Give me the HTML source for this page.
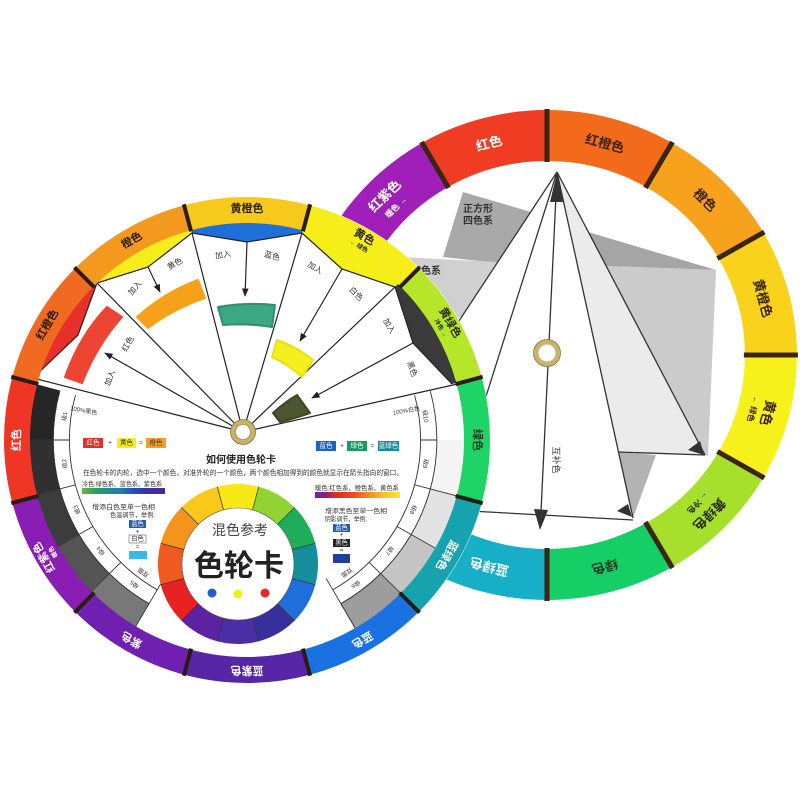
<!DOCTYPE html>
<html><head><meta charset="utf-8">
<style>
html,body{margin:0;padding:0;background:#fff;}
svg{display:block;}
text{font-family:"Liberation Sans","Noto Sans CJK SC",sans-serif;}
</style></head><body>
<svg width="800" height="800" viewBox="0 0 800 800" xmlns="http://www.w3.org/2000/svg">
<defs>
 <marker id="ah" viewBox="0 0 10 10" refX="9" refY="5" markerWidth="7" markerHeight="7" orient="auto"><path d="M0,1 L10,5 L0,9 z" fill="#222"/></marker>
 <linearGradient id="cool" x1="0" x2="1" y1="0" y2="0">
  <stop offset="0" stop-color="#6cb83a"/><stop offset="0.16" stop-color="#2aa05a"/><stop offset="0.45" stop-color="#1f80b8"/><stop offset="0.62" stop-color="#2050c0"/><stop offset="0.78" stop-color="#3a30a0"/><stop offset="1" stop-color="#4a2898"/>
 </linearGradient>
 <linearGradient id="warm" x1="0" x2="1" y1="0" y2="0">
  <stop offset="0" stop-color="#6a22a8"/><stop offset="0.14" stop-color="#8a1f80"/><stop offset="0.22" stop-color="#d92a20"/><stop offset="0.45" stop-color="#ee4a1e"/><stop offset="0.62" stop-color="#f28a22"/><stop offset="0.8" stop-color="#f8c030"/><stop offset="1" stop-color="#f8e428"/>
 </linearGradient>
</defs>
<rect width="800" height="800" fill="#fff"/>

<!-- ============ RIGHT WHEEL ============ -->
<g transform="translate(547,355) scale(1.02,1)">
 <circle r="245" fill="#fff"/>
 <g fill="none" stroke-width="51" stroke-dasharray="116 1300">
  <circle r="219.5" stroke="#f36b1a" transform="rotate(-90)"/>
  <circle r="219.5" stroke="#f7a21c" transform="rotate(-60)"/>
  <circle r="219.5" stroke="#f9d21b" transform="rotate(-30)"/>
  <circle r="219.5" stroke="#f6f11a" transform="rotate(0)"/>
  <circle r="219.5" stroke="#a6e02d" transform="rotate(30)"/>
  <circle r="219.5" stroke="#16ce66" transform="rotate(60)"/>
  <circle r="219.5" stroke="#17afc8" transform="rotate(90)"/>
  <circle r="219.5" stroke="#1a6fe0" transform="rotate(120)"/>
  <circle r="219.5" stroke="#4a2aa8" transform="rotate(150)"/>
  <circle r="219.5" stroke="#7a20b0" transform="rotate(180)"/>
  <circle r="219.5" stroke="#a01fb8" transform="rotate(210)"/>
  <circle r="219.5" stroke="#f03c22" transform="rotate(240)"/>
 </g>
 <g stroke="#3b2616" stroke-width="5">
  <line y1="-193" y2="-246" transform="rotate(0)"/>
  <line y1="-193" y2="-246" transform="rotate(30)"/>
  <line y1="-193" y2="-246" transform="rotate(60)"/>
  <line y1="-193" y2="-246" transform="rotate(90)"/>
  <line y1="-193" y2="-246" transform="rotate(120)"/>
  <line y1="-193" y2="-246" transform="rotate(150)"/>
  <line y1="-193" y2="-246" transform="rotate(180)"/>
  <line y1="-193" y2="-246" transform="rotate(210)"/>
  <line y1="-193" y2="-246" transform="rotate(240)"/>
  <line y1="-193" y2="-246" transform="rotate(270)"/>
  <line y1="-193" y2="-246" transform="rotate(300)"/>
  <line y1="-193" y2="-246" transform="rotate(330)"/>
 </g>
 <g font-size="13" font-weight="bold" text-anchor="middle" dominant-baseline="central">
  <text transform="rotate(345) translate(0,-219)" fill="#fff">红色</text>
  <text transform="rotate(15) translate(0,-219)" fill="#3a2410">红橙色</text>
  <text transform="rotate(45) translate(0,-219)" fill="#3a2410">橙色</text>
  <text transform="rotate(75) translate(0,-219)" fill="#3a2410">黄橙色</text>
  <text transform="rotate(105) translate(0,-224)" fill="#3a2410">黄色</text>
  <text transform="rotate(105) translate(0,-209)" fill="#3a2410" font-size="8">← 绿色</text>
  <text transform="rotate(135) translate(0,-225)" fill="#2a2a10">黄绿色</text>
  <text transform="rotate(135) translate(0,-209)" fill="#2a2a10" font-size="8">← 冷色</text>
  <text transform="rotate(165) translate(0,-219)" fill="#1a3a20">绿色</text>
  <text transform="rotate(195) translate(0,-219)" fill="#fff">蓝绿色</text>
  <text transform="rotate(315) translate(0,-225)" fill="#fff">红紫色</text>
  <text transform="rotate(315) translate(0,-209)" fill="#fff" font-size="8">暖色 →</text>
 </g>
</g>

<!-- right wheel interior -->
<polygon points="463,192 531,212 497,263 443,257" fill="#a9a9a9"/>
<polygon points="400,257 497,262 463,315 440,330" fill="#d0d0d0"/>
<polygon points="588,232 716,270 606,266" fill="#a5a5a5"/>
<polygon points="606,266 716,270 708,456 705,455" fill="#cbcbcb"/>
<polygon points="557,172 705,455 618,452" fill="#ebebeb"/>
<polygon points="618,452 656,455 633,518" fill="#b3b3b3"/>
<g stroke="#333" stroke-width="1.3" fill="none">
 <line x1="557" y1="172" x2="430" y2="365"/>
 <line x1="557" y1="172" x2="470" y2="447"/>
 <line x1="557" y1="172" x2="705" y2="455"/>
 <line x1="557" y1="172" x2="633" y2="518"/>
 <line x1="618" y1="452" x2="705" y2="455"/>
 <line x1="470" y1="511" x2="633" y2="520"/>
 <line x1="556" y1="195" x2="541" y2="512"/>
</g>
<polygon points="557,173 550,202 563,202" fill="#333"/>
<polygon points="540,530 534,509 548,510" fill="#333"/>
<polygon points="704,455 688,450 700,441" fill="#333"/>
<polygon points="632,517 617,511 628,504" fill="#333"/>
<circle cx="547" cy="353" r="11" fill="#fff" stroke="#c9b36d" stroke-width="5"/>
<circle cx="547" cy="353" r="13.5" fill="none" stroke="#8a7440" stroke-width="0.8"/>
<text x="478" y="212" font-size="10" font-weight="bold" fill="#333" text-anchor="middle">正方形</text>
<text x="478" y="224" font-size="10" font-weight="bold" fill="#333" text-anchor="middle">四色系</text>
<text x="411" y="274" font-size="10" font-weight="bold" fill="#333">四色系</text>
<text transform="translate(556,460) rotate(90)" font-size="9" fill="#333" text-anchor="middle" dominant-baseline="central">互补色</text>

<!-- ============ LEFT WHEEL ============ -->
<circle cx="247" cy="440" r="243.5" fill="#fff"/>

<!-- gray scale band -->
<g transform="translate(245,440) scale(1.015,1)" fill="none" stroke-width="29" stroke-dasharray="53.8 1300">
 <circle r="203" stroke="#262626" transform="rotate(180)"/>
 <circle r="203" stroke="#303030" transform="rotate(165)"/>
 <circle r="203" stroke="#3c3c3c" transform="rotate(150)"/>
 <circle r="203" stroke="#545454" transform="rotate(135)"/>
 <circle r="203" stroke="#787878" transform="rotate(120)"/>
 <circle r="203" stroke="#9d9d9d" transform="rotate(45)"/>
 <circle r="203" stroke="#c4c4c4" transform="rotate(30)"/>
 <circle r="203" stroke="#e2e2e2" transform="rotate(15)"/>
 <circle r="203" stroke="#f4f4f4" transform="rotate(0)"/>
</g>
<!-- label ring outlines -->
<g transform="translate(245,440) scale(1.015,1)" fill="none" stroke="#333" stroke-width="0.9">
 <circle r="173" stroke-dasharray="226.5 2000" transform="rotate(-15)"/>
 <circle r="173" stroke-dasharray="226.5 2000" transform="rotate(120)"/>
 <circle r="189" stroke-dasharray="247.4 2000" transform="rotate(-15)"/>
 <circle r="189" stroke-dasharray="247.4 2000" transform="rotate(120)"/>
 <g>
  <line y1="-173" y2="-189" transform="rotate(90)"/>
  <line y1="-173" y2="-217" transform="rotate(105)"/>
  <line y1="-173" y2="-217" transform="rotate(120)"/>
  <line y1="-173" y2="-217" transform="rotate(135)"/>
  <line y1="-160" y2="-217" transform="rotate(150)"/>
  <line y1="-160" y2="-217" transform="rotate(210)"/>
  <line y1="-173" y2="-217" transform="rotate(225)"/>
  <line y1="-173" y2="-217" transform="rotate(240)"/>
  <line y1="-173" y2="-217" transform="rotate(255)"/>
  <line y1="-173" y2="-189" transform="rotate(270)"/>
 </g>
</g>
<g transform="translate(245,440)" font-size="6" fill="#333" text-anchor="middle" dominant-baseline="central">
 <text transform="rotate(277.5) translate(0,-181)">级1</text>
 <text transform="rotate(262.5) translate(0,-181)">级2</text>
 <text transform="rotate(247.5) translate(0,-181)">级3</text>
 <text transform="rotate(232.5) translate(0,-181)">级4</text>
 <text transform="rotate(217.5) translate(0,-181)">级5</text>
 <text transform="rotate(217.5) translate(0,-166)">双面</text>
 <text transform="rotate(142.5) translate(0,-181)">级6</text>
 <text transform="rotate(142.5) translate(0,-166)">双面</text>
 <text transform="rotate(127.5) translate(0,-181)">级7</text>
 <text transform="rotate(112.5) translate(0,-181)">级8</text>
 <text transform="rotate(97.5) translate(0,-181)">级9</text>
 <text transform="rotate(82.5) translate(0,-181)">级10</text>
 <text transform="rotate(280) translate(0,-164) rotate(90)">100%黑色</text>
 <text transform="rotate(80) translate(0,-164) rotate(-90)">100%白色</text>
</g>

<!-- windows -->
<polygon points="33,378 78,335 97,283 85,265 42,325 20,380" fill="#e8302a"/>
<polygon points="97,283 148,267 192,233 186,214 90,268" fill="#f6ee1c"/>
<polygon points="192,233 247,242 302,233 304,212 190,212" fill="#1f6fd8"/>
<polygon points="302,233 342,269 395,287 408,272 306,212" fill="#f5ef18"/>
<polygon points="395,287 413,343 452,384 470,380 408,273" fill="#3a3a3a"/>
<polyline points="33,378 78,335 97,283 148,267 192,233 247,242 302,233 342,269 395,287 413,343 452,384" fill="none" stroke="#222" stroke-width="1.2"/>

<!-- fan lines -->
<g stroke="#222" stroke-width="1.2">
 <line x1="243" y1="432" x2="33" y2="378"/>
 <line x1="243" y1="432" x2="97" y2="283"/>
 <line x1="243" y1="432" x2="192" y2="233"/>
 <line x1="243" y1="432" x2="302" y2="233"/>
 <line x1="243" y1="432" x2="395" y2="287"/>
 <line x1="243" y1="432" x2="462" y2="383"/>
 <line x1="148" y1="267" x2="160" y2="292" marker-end="url(#ah)"/>
 <line x1="247" y1="242" x2="245" y2="296" marker-end="url(#ah)"/>
 <line x1="342" y1="269" x2="300" y2="341" marker-end="url(#ah)"/>
 <line x1="413" y1="343" x2="312" y2="398" marker-end="url(#ah)"/>
 <line x1="236" y1="428" x2="105" y2="353" marker-end="url(#ah)"/>
</g>

<!-- swatches -->
<g stroke-width="2" stroke-linejoin="round">
 <path d="M65,377 Q80,335 107,307 L122,317 Q97,345 82,383 Z" fill="#ee4434" stroke="#ee4434"/>
 <path d="M137,317 Q165,292 198,280 L205,298 Q173,309 148,328 Z" fill="#f5a21a" stroke="#f5a21a"/>
 <path d="M218,307 Q246,302 275,305 L272,327 Q247,323 223,325 Z" fill="#3aa882" stroke="#2f8f6c"/>
 <path d="M277,340 Q297,347 313,360 L302,377 Q289,365 272,357 Z" fill="#f4ef1e" stroke="#e8e010"/>
 <path d="M273,413 Q285,402 297,395 L310,413 Q296,418 280,422 Z" fill="#4c5630" stroke="#3e4626"/>
</g>

<!-- fan texts -->
<g font-size="8" fill="#333" text-anchor="middle" dominant-baseline="central">
 <text transform="translate(135,288) rotate(-50)">加入</text>
 <text transform="translate(175,264) rotate(-30)">黄色</text>
 <text transform="translate(223,255) rotate(-10)">加入</text>
 <text transform="translate(272,256) rotate(15)">蓝色</text>
 <text transform="translate(315,268) rotate(30)">加入</text>
 <text transform="translate(356,294) rotate(45)">白色</text>
 <text transform="translate(389,326) rotate(60)">加入</text>
 <text transform="translate(412,369) rotate(70)">黑色</text>
 <text transform="translate(128,344) rotate(-60)">红色</text>
 <text transform="translate(110,378) rotate(-70)">加入</text>
</g>

<!-- outer ring left -->
<g transform="translate(247,440)" fill="none" stroke-width="26" stroke-dasharray="121.5 1400">
 <circle r="230" stroke="#f7c91c" transform="rotate(255)"/>
 <circle r="230" stroke="#f6ee1a" transform="rotate(-75)"/>
 <circle r="230" stroke="#b6e62a" transform="rotate(-45)"/>
 <circle r="230" stroke="#1fd466" transform="rotate(-15)"/>
 <circle r="230" stroke="#17a3ad" transform="rotate(15)"/>
 <circle r="230" stroke="#1a72e2" transform="rotate(45)"/>
 <circle r="230" stroke="#5726a6" transform="rotate(75)"/>
 <circle r="230" stroke="#7020b0" transform="rotate(105)"/>
 <circle r="230" stroke="#8a1db4" transform="rotate(135)"/>
 <circle r="230" stroke="#ef3524" transform="rotate(165)"/>
 <circle r="230" stroke="#f06a22" transform="rotate(195)"/>
 <circle r="230" stroke="#f39a1e" transform="rotate(225)"/>
</g>
<g transform="translate(247,440)" stroke="#2a1c12" stroke-width="4">
 <line y1="-216" y2="-244" transform="rotate(15)"/>
 <line y1="-216" y2="-244" transform="rotate(45)"/>
 <line y1="-216" y2="-244" transform="rotate(75)"/>
 <line y1="-216" y2="-244" transform="rotate(105)"/>
 <line y1="-216" y2="-244" transform="rotate(135)"/>
 <line y1="-216" y2="-244" transform="rotate(165)"/>
 <line y1="-216" y2="-244" transform="rotate(195)"/>
 <line y1="-216" y2="-244" transform="rotate(225)"/>
 <line y1="-216" y2="-244" transform="rotate(255)"/>
 <line y1="-216" y2="-244" transform="rotate(285)"/>
 <line y1="-216" y2="-244" transform="rotate(315)"/>
 <line y1="-216" y2="-244" transform="rotate(345)"/>
</g>
<g transform="translate(247,440)" font-size="11" font-weight="bold" text-anchor="middle" dominant-baseline="central">
 <text transform="rotate(0) translate(0,-231)" fill="#2a2010">黄橙色</text>
 <text transform="rotate(30) translate(0,-234)" fill="#2a2010">黄色</text>
 <text transform="rotate(30) translate(0,-223)" fill="#2a2010" font-size="6">← 绿色</text>
 <text transform="rotate(60) translate(0,-234)" fill="#2a2a10">黄绿色</text>
 <text transform="rotate(60) translate(0,-223)" fill="#2a2a10" font-size="6">冷色 →</text>
 <text transform="rotate(90) translate(0,-230)" fill="#1a3a20">绿色</text>
 <text transform="rotate(120) translate(0,-230)" fill="#fff">蓝绿色</text>
 <text transform="rotate(150) translate(0,-230)" fill="#fff">蓝色</text>
 <text transform="rotate(180) translate(0,-230)" fill="#fff">蓝紫色</text>
 <text transform="rotate(210) translate(0,-230)" fill="#fff">紫色</text>
 <text transform="rotate(240) translate(0,-234)" fill="#fff">红紫色</text>
 <text transform="rotate(240) translate(0,-223)" fill="#fff" font-size="6">暖色</text>
 <text transform="rotate(270) translate(0,-230)" fill="#fff">红色</text>
 <text transform="rotate(300) translate(0,-230)" fill="#2a1a10">红橙色</text>
 <text transform="rotate(330) translate(0,-230)" fill="#2a1a10">橙色</text>
</g>

<!-- center text area -->
<g font-size="6.5" text-anchor="middle" dominant-baseline="central">
 <rect x="83" y="438" width="20" height="10" fill="#d9332a"/><text x="93" y="443" fill="#fff">红色</text>
 <text x="110" y="443" fill="#333">+</text>
 <rect x="117" y="438" width="19" height="10" fill="#f3ee22"/><text x="126.5" y="443" fill="#333">黄色</text>
 <text x="141" y="443" fill="#333">=</text>
 <rect x="146" y="438" width="20" height="10" fill="#f2a02a"/><text x="156" y="443" fill="#333">橙色</text>

 <rect x="316" y="441" width="20" height="10" fill="#1f62c0"/><text x="326" y="446" fill="#fff">蓝色</text>
 <text x="342" y="446" fill="#333">+</text>
 <rect x="347" y="441" width="20" height="10" fill="#1c9a66"/><text x="357" y="446" fill="#fff">绿色</text>
 <text x="372.5" y="446" fill="#333">=</text>
 <rect x="378" y="441" width="21" height="10" fill="#1a8aa0"/><text x="388.5" y="446" fill="#fff">蓝绿色</text>
</g>
<text x="241" y="463" font-size="10" font-weight="bold" fill="#222" text-anchor="middle">如何使用色轮卡</text>
<text x="83" y="475" font-size="6.8" fill="#333" textLength="320" lengthAdjust="spacingAndGlyphs">在色轮卡的内轮，选中一个颜色，对准外轮的一个颜色，两个颜色相加得到的颜色就显示在箭头指向的窗口。</text>
<text x="82" y="486" font-size="6.3" fill="#333" textLength="80" lengthAdjust="spacingAndGlyphs">冷色:绿色系、蓝色系、紫色系</text>
<rect x="82" y="488" width="83" height="6" fill="url(#cool)"/>
<text x="315" y="490" font-size="6.3" fill="#333" textLength="84" lengthAdjust="spacingAndGlyphs">暖色:红色系、橙色系、黄色系</text>
<rect x="315" y="492" width="85" height="6" fill="url(#warm)"/>

<g font-size="6.3" fill="#333">
 <text x="92" y="509" textLength="63" lengthAdjust="spacingAndGlyphs">增添白色至单一色相</text>
 <text x="110" y="517" textLength="45" lengthAdjust="spacingAndGlyphs">色温调节，举例:</text>
 <text x="325" y="513" textLength="62" lengthAdjust="spacingAndGlyphs">增添黑色至单一色相</text>
 <text x="325" y="521" textLength="42" lengthAdjust="spacingAndGlyphs">阴影调节，举例:</text>
</g>
<g font-size="6.3" text-anchor="middle" dominant-baseline="central">
 <rect x="129" y="520" width="17" height="8" fill="#1f5fb8"/><text x="137.5" y="524" fill="#fff">蓝色</text>
 <text x="137.5" y="532" fill="#333">+</text>
 <rect x="129" y="535" width="17" height="8" fill="#fff" stroke="#666" stroke-width="0.6"/><text x="137.5" y="539" fill="#333">白色</text>
 <text x="137.5" y="547" fill="#333">=</text>
 <rect x="129" y="551" width="18" height="8" fill="#3ab8ea"/>

 <rect x="333" y="524" width="17" height="8" fill="#1f5fb8"/><text x="341.5" y="528" fill="#fff">蓝色</text>
 <text x="341.5" y="535.5" fill="#333">+</text>
 <rect x="333" y="539" width="17" height="8" fill="#222"/><text x="341.5" y="543" fill="#fff">黑色</text>
 <text x="341.5" y="550.5" fill="#333">=</text>
 <rect x="333" y="554" width="17" height="9" fill="#1e3ea0"/>
</g>

<!-- small color wheel -->
<g transform="translate(238,564)">
 <g fill="none" stroke-width="24" stroke-dasharray="36.3 500">
  <circle r="68" stroke="#f7e816" transform="rotate(-105)"/>
  <circle r="68" stroke="#92d334" transform="rotate(-75)"/>
  <circle r="68" stroke="#20ad5a" transform="rotate(-45)"/>
  <circle r="68" stroke="#158e9c" transform="rotate(-15)"/>
  <circle r="68" stroke="#1f6edb" transform="rotate(15)"/>
  <circle r="68" stroke="#38309a" transform="rotate(45)"/>
  <circle r="68" stroke="#4a2ea6" transform="rotate(75)"/>
  <circle r="68" stroke="#5c22a2" transform="rotate(105)"/>
  <circle r="68" stroke="#e82222" transform="rotate(135)"/>
  <circle r="68" stroke="#f05a20" transform="rotate(165)"/>
  <circle r="68" stroke="#f5941a" transform="rotate(195)"/>
  <circle r="68" stroke="#f9c81a" transform="rotate(225)"/>
 </g>
 <g stroke="#333" stroke-width="0.7">
  <line y1="-56" y2="-80" transform="rotate(15)"/>
  <line y1="-56" y2="-80" transform="rotate(45)"/>
  <line y1="-56" y2="-80" transform="rotate(75)"/>
  <line y1="-56" y2="-80" transform="rotate(105)"/>
  <line y1="-56" y2="-80" transform="rotate(135)"/>
  <line y1="-56" y2="-80" transform="rotate(165)"/>
  <line y1="-56" y2="-80" transform="rotate(195)"/>
  <line y1="-56" y2="-80" transform="rotate(225)"/>
  <line y1="-56" y2="-80" transform="rotate(255)"/>
  <line y1="-56" y2="-80" transform="rotate(285)"/>
  <line y1="-56" y2="-80" transform="rotate(315)"/>
  <line y1="-56" y2="-80" transform="rotate(345)"/>
 </g>
 <circle r="56" fill="#fff" stroke="#555" stroke-width="0.6"/>
</g>
<text x="240" y="535" font-size="14" fill="#444" text-anchor="middle">混色参考</text>
<text x="239" y="576" font-size="30" font-weight="bold" fill="#222" text-anchor="middle">色轮卡</text>
<circle cx="212" cy="593" r="4.5" fill="#1f5fc8"/>
<circle cx="238" cy="594" r="4.5" fill="#f3ec18"/>
<circle cx="265" cy="593" r="4.5" fill="#e52a22"/>

<!-- grommet left -->
<circle cx="243" cy="432" r="10" fill="#fff" stroke="#c8b16a" stroke-width="5"/>
<circle cx="243" cy="432" r="12.5" fill="none" stroke="#8a7440" stroke-width="0.8"/>
<circle cx="243" cy="432" r="7.5" fill="none" stroke="#8a7440" stroke-width="0.6"/>
</svg>
</body></html>
